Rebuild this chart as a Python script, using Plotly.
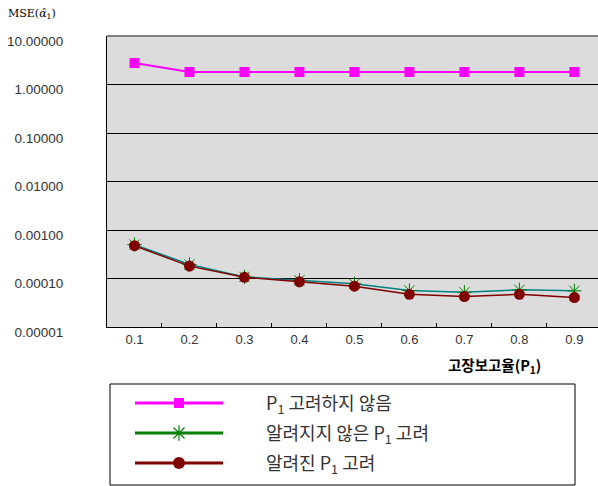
import plotly.graph_objects as go

# ---- data -------------------------------------------------------------
p1_labels = ["0.1", "0.2", "0.3", "0.4", "0.5", "0.6", "0.7", "0.8", "0.9"]
mse_ignore_p1 = [2.77, 1.81, 1.81, 1.81, 1.81, 1.81, 1.81, 1.81, 1.81]
mse_unknown_p1 = [4.99e-4, 1.95e-4, 1.08e-4, 9.2e-5, 7.76e-5, 5.65e-5, 5.2e-5, 5.83e-5, 5.56e-5]
mse_known_p1 = [4.75e-4, 1.80e-4, 1.06e-4, 8.55e-5, 6.93e-5, 4.73e-5, 4.24e-5, 4.73e-5, 4.04e-5]
y_tick_values = [1e-5, 1e-4, 1e-3, 1e-2, 1e-1, 1.0, 10.0]
y_tick_labels = ["0.00001", "0.00010", "0.00100", "0.01000", "0.10000", "1.00000", "10.00000"]
series_names = [
    "P<sub>1</sub> 고려하지 않음",
    "알려지지 않은 P<sub>1</sub> 고려",
    "알려진 P<sub>1</sub> 고려",
]

# ---- page geometry (pixels) -------------------------------------------
W, H = 598, 486
TOP, BOTTOM, LEFT = 36, 327, 107

KR = "Noto Sans CJK KR"
LAT = "Liberation Sans, Arial, sans-serif"

MAGENTA = "#FF00FF"
GREEN = "#008000"
TEAL = "#008080"
MAROON = "#800000"

fig = go.Figure()

# main series
fig.add_trace(go.Scatter(
    x=p1_labels, y=mse_ignore_p1, mode="lines+markers",
    line=dict(color=MAGENTA, width=2),
    marker=dict(symbol="square", size=10, color=MAGENTA),
    xaxis="x", yaxis="y", showlegend=False,
))
fig.add_trace(go.Scatter(
    x=p1_labels, y=mse_unknown_p1, mode="lines+markers",
    line=dict(color=TEAL, width=1.5),
    marker=dict(symbol="asterisk-open", size=12, color=GREEN, line=dict(color=GREEN, width=1)),
    xaxis="x", yaxis="y", showlegend=False,
))
fig.add_trace(go.Scatter(
    x=p1_labels, y=mse_known_p1, mode="lines+markers",
    line=dict(color=MAROON, width=1.5),
    marker=dict(symbol="circle", size=11, color=MAROON),
    xaxis="x", yaxis="y", showlegend=False,
))

# ---- hand-built legend on a pixel-scaled overlay axis -----------------
LEG_BOX = (110, 384, 575, 485)
LEG_ROW0, LEG_ROW_STEP = 403, 30
LEG_LINE = (135, 223)
LEG_TEXT_X = 264
leg_styles = [
    dict(line=MAGENTA, marker=dict(symbol="square", size=10, color=MAGENTA)),
    dict(line=GREEN, marker=dict(symbol="asterisk-open", size=13, color=GREEN,
                                 line=dict(color=GREEN, width=1.2))),
    dict(line=MAROON, marker=dict(symbol="circle", size=12, color=MAROON)),
]
mid = (LEG_LINE[0] + LEG_LINE[1]) / 2
for i, (name, st) in enumerate(zip(series_names, leg_styles)):
    yy = LEG_ROW0 + i * LEG_ROW_STEP
    fig.add_trace(go.Scatter(
        x=list(LEG_LINE), y=[yy, yy], mode="lines",
        line=dict(color=st["line"], width=3),
        xaxis="x2", yaxis="y2", showlegend=False, hoverinfo="skip",
    ))
    fig.add_trace(go.Scatter(
        x=[mid], y=[yy], mode="markers", marker=st["marker"],
        xaxis="x2", yaxis="y2", showlegend=False, hoverinfo="skip",
    ))
    fig.add_annotation(
        x=LEG_TEXT_X, y=yy, xref="x2", yref="y2", text=name, showarrow=False,
        xanchor="left", yanchor="middle", font=dict(family=KR, size=18, color="#333333"),
    )

fig.add_shape(type="rect", xref="x2", yref="y2",
              x0=LEG_BOX[0], y0=LEG_BOX[1], x1=LEG_BOX[2], y1=LEG_BOX[3],
              line=dict(color="black", width=1), fillcolor="rgba(0,0,0,0)")

# plot-area background and top border
fig.add_shape(type="rect", xref="x domain", yref="y domain", x0=0, x1=1, y0=0, y1=1,
              fillcolor="#DCDCDC", line=dict(width=0), layer="below")
fig.add_shape(type="line", xref="x domain", yref="y domain", x0=0, x1=1, y0=1, y1=1,
              line=dict(color="#808080", width=2))

# axis titles
fig.add_annotation(
    x=543, y=365, xref="x2", yref="y2", text="<b>고장보고율(P<sub>1</sub>)</b>",
    showarrow=False, xanchor="right", yanchor="middle",
    font=dict(family=KR, size=14.5, color="black"),
)
fig.add_annotation(
    x=6, y=14, xref="x2", yref="y2", text="MSE(<i>α̂</i><sub>1</sub>)",
    showarrow=False, xanchor="left", yanchor="middle",
    font=dict(family="DejaVu Serif", size=11, color="black"),
)

fig.update_layout(
    width=W, height=H,
    margin=dict(l=0, r=0, t=0, b=0, autoexpand=False),
    paper_bgcolor="white", plot_bgcolor="rgba(0,0,0,0)",
    xaxis=dict(
        domain=[LEFT / W, 1], anchor="y", type="category", automargin=False,
        range=[-0.5, 8.43], tickson="boundaries",
        ticks="inside", ticklen=4, tickcolor="black",
        showline=True, linecolor="black", linewidth=1,
        showgrid=False, zeroline=False,
        tickfont=dict(family=LAT, size=13, color="#333333"),
    ),
    yaxis=dict(
        domain=[(H - BOTTOM) / H, (H - TOP) / H], anchor="x", type="log", automargin=False,
        range=[-5, 1], tickvals=y_tick_values, ticktext=y_tick_labels,
        showgrid=True, gridcolor="black", gridwidth=1,
        showline=True, linecolor="black", linewidth=1,
        ticks="", ticklabelstandoff=40, ticklabelshift=5, zeroline=False,
        tickfont=dict(family=LAT, size=13.5, color="#333333"),
    ),
    xaxis2=dict(domain=[0, 1], anchor="y2", range=[0, W], visible=False, fixedrange=True),
    yaxis2=dict(domain=[0, 1], anchor="x2", range=[H, 0], visible=False, fixedrange=True),
)

fig.write_html("out.html")
